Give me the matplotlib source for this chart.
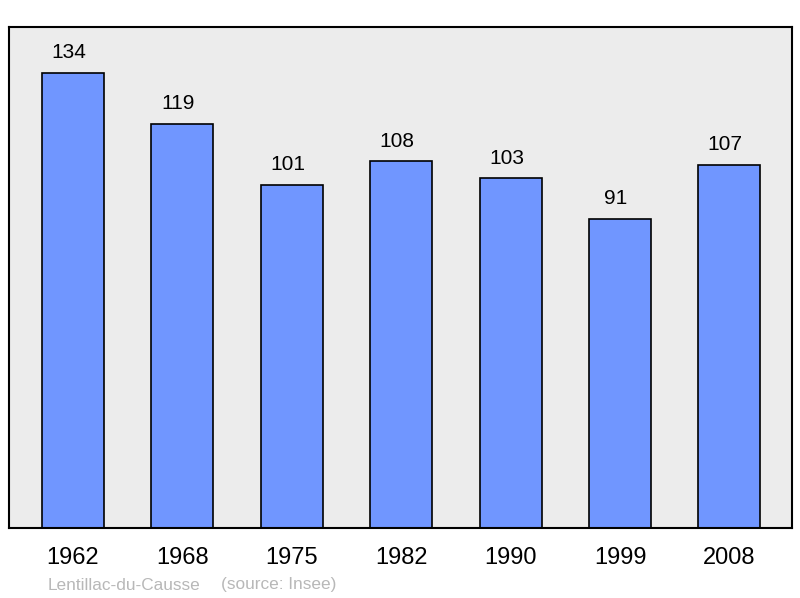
import matplotlib.pyplot as plt

plt.rcParams["font.family"] = ["Liberation Sans", "DejaVu Sans"]

years = ["1962", "1968", "1975", "1982", "1990", "1999", "2008"]
population = [134, 119, 101, 108, 103, 91, 107]

fig = plt.figure(figsize=(8.0, 5.98), dpi=100)
ax = fig.add_axes([9 / 800, 70 / 598, 783 / 800, 501 / 598])
ax.set_facecolor("#ececec")

pos = list(range(len(years)))
ax.bar(pos, population, width=0.567, color="#7096ff", edgecolor="black",
       linewidth=1.2, zorder=2)
for x, v in zip(pos, population):
    ax.annotate(str(v), (x, v), xytext=(-3, 14.5), textcoords="offset points",
                ha="center", va="center", fontsize=15)

ax.set_xlim(-0.585, 6.572)
ax.set_ylim(0, 147.5)
ax.set_yticks([])
ax.set_xticks(pos)
ax.set_xticklabels(years, fontsize=17)
ax.tick_params(axis="x", length=0, pad=14)
for s in ax.spines.values():
    s.set_linewidth(1.5)

fig.text(48 / 800, 1 - 585 / 598, "Lentillac-du-Causse", color="#b8b8b8",
         fontsize=12.4, va="center")
fig.text(221 / 800, 1 - 585 / 598, "(source: Insee)", color="#b8b8b8",
         fontsize=12.4, va="center")

fig.savefig("out.png", dpi=100)
